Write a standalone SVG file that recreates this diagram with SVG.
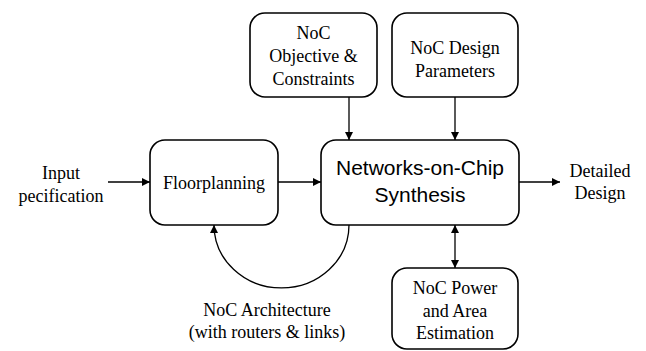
<svg xmlns="http://www.w3.org/2000/svg" width="646" height="351" viewBox="0 0 646 351">
  <style>
    .box { fill: #fff; stroke: #000; stroke-width: 1.6; }
    .serif { font-family: 'Liberation Serif', 'DejaVu Serif', 'Times New Roman', Times, serif; font-size: 18px; fill: #000; text-anchor: middle; }
    .sans { font-family: 'Liberation Sans', Arial, sans-serif; font-size: 21px; fill: #000; text-anchor: middle; }
    .edge { fill: none; stroke: #000; stroke-width: 1.3; }
  </style>
  <defs>
    <marker id="arrow" viewBox="0 0 10 10" refX="10" refY="5" markerWidth="8" markerHeight="8" markerUnits="userSpaceOnUse" orient="auto-start-reverse">
      <path d="M0,0 L10,5 L0,10 Z" fill="#000"/>
    </marker>
  </defs>
  <rect width="646" height="351" fill="#fff"/>

  <g id="connectors">
    <line class="edge" x1="108" y1="182" x2="150" y2="182" marker-end="url(#arrow)"/>
    <line class="edge" x1="278" y1="182" x2="321" y2="182" marker-end="url(#arrow)"/>
    <line class="edge" x1="519" y1="182" x2="560" y2="182" marker-end="url(#arrow)"/>
    <line class="edge" x1="349" y1="97" x2="349" y2="140" marker-end="url(#arrow)"/>
    <line class="edge" x1="455" y1="97" x2="455" y2="140" marker-end="url(#arrow)"/>
    <line class="edge" x1="455" y1="225" x2="455" y2="268" marker-start="url(#arrow)" marker-end="url(#arrow)"/>
    <path class="edge" d="M349,225 A67.5,63 0 0 1 214,225" marker-end="url(#arrow)"/>
  </g>

  <g id="input-label" font-family="Liberation Serif, DejaVu Serif, serif">
    <text class="serif" x="61" y="179">Input</text>
    <text class="serif" x="61" y="202">pecification</text>
  </g>

  <g id="floorplanning">
    <rect class="box" x="150" y="140" width="128" height="85" rx="15"/>
    <text class="serif" x="214" y="189">Floorplanning</text>
  </g>

  <g id="noc-synthesis">
    <rect class="box" x="321" y="140" width="198" height="85" rx="15"/>
    <text class="sans" x="420" y="175">Networks-on-Chip</text>
    <text class="sans" x="420" y="202">Synthesis</text>
  </g>

  <g id="detailed-design">
    <text class="serif" x="600" y="177">Detailed</text>
    <text class="serif" x="600" y="199">Design</text>
  </g>

  <g id="objective-constraints">
    <rect class="box" x="250" y="13" width="127" height="84" rx="15"/>
    <text class="serif" x="313.5" y="39">NoC</text>
    <text class="serif" x="313.5" y="62">Objective &amp;</text>
    <text class="serif" x="313.5" y="85">Constraints</text>
  </g>

  <g id="design-parameters">
    <rect class="box" x="392" y="13" width="126" height="84" rx="15"/>
    <text class="serif" x="455" y="54">NoC Design</text>
    <text class="serif" x="455" y="77">Parameters</text>
  </g>

  <g id="power-area">
    <rect class="box" x="392" y="268" width="126" height="81" rx="15"/>
    <text class="serif" x="455" y="294">NoC Power</text>
    <text class="serif" x="455" y="317">and Area</text>
    <text class="serif" x="455" y="339">Estimation</text>
  </g>

  <g id="architecture-label">
    <text class="serif" x="267" y="316">NoC Architecture</text>
    <text class="serif" x="267" y="338">(with routers &amp; links)</text>
  </g>
</svg>
